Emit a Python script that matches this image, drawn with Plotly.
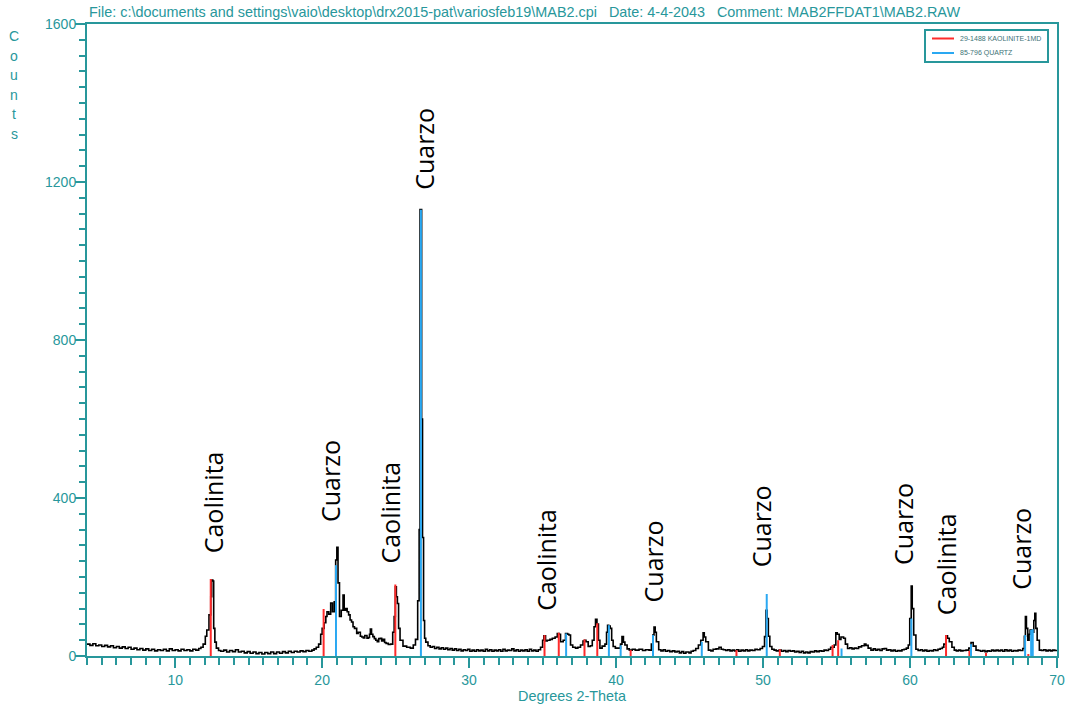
import plotly.graph_objects as go

# ---- measured diffraction trace (2-theta in degrees, counts) ----
two_theta = [
    4.0, 4.2, 4.4, 4.6, 4.8, 5.0, 5.2, 5.4, 5.6, 5.8, 6.0, 6.2, 6.4, 6.6, 6.8, 7.0, 7.2, 7.4, 7.6, 7.8,
    8.0, 8.2, 8.4, 8.6, 8.8, 9.0, 9.2, 9.4, 9.6, 9.8, 10.0, 10.2, 10.4, 10.6, 10.8, 11.0, 11.2, 11.4, 11.6,
    11.75, 11.9, 12.05, 12.15, 12.3, 12.42, 12.48, 12.56, 12.62, 12.7, 12.8, 12.95,
    13.1, 13.3, 13.5, 13.7, 13.9, 14.1, 14.3, 14.5, 14.7, 14.9, 15.1, 15.3, 15.5, 15.7, 15.9, 16.1, 16.3, 16.5,
    16.7, 16.9, 17.1, 17.3, 17.5, 17.7, 17.9, 18.1, 18.3, 18.5, 18.7, 18.9, 19.1, 19.3, 19.45,
    19.6, 19.76, 19.9, 20.0, 20.14, 20.25, 20.33, 20.45, 20.58, 20.7, 20.82, 20.92, 21.0, 21.08, 21.18, 21.3,
    21.42, 21.5, 21.6, 21.7, 21.8, 21.9, 22.0, 22.1, 22.2, 22.35, 22.45, 22.6, 22.7, 22.8, 22.9, 23.05,
    23.15, 23.22, 23.28, 23.36, 23.45, 23.55, 23.65, 23.75, 23.85, 23.96, 24.05, 24.15, 24.25, 24.35, 24.5, 24.65,
    24.8, 24.9, 24.98, 25.05, 25.12, 25.2, 25.3, 25.5, 25.75, 26.0, 26.2, 26.35, 26.5, 26.6, 26.66, 26.72,
    26.77, 26.83, 26.9, 26.97,
    27.05, 27.2, 27.35, 27.5, 27.65, 27.8, 27.95, 28.1, 28.25, 28.4, 28.55, 28.7, 28.85, 29.0, 29.15, 29.3,
    29.45, 29.6, 29.75, 29.9, 30.05, 30.2, 30.35, 30.5, 30.65, 30.8, 30.95, 31.1, 31.25, 31.4, 31.55, 31.7,
    31.85, 32.0, 32.15, 32.3, 32.45, 32.6, 32.75, 32.9, 33.05, 33.2, 33.35, 33.5, 33.65, 33.8, 33.95, 34.1,
    34.25, 34.4, 34.55, 34.7,
    34.86, 35.0, 35.08, 35.2, 35.32, 35.5, 35.66, 35.85, 36.0, 36.12, 36.22, 36.4, 36.56, 36.7, 36.79, 36.9,
    37.05, 37.24, 37.4, 37.58, 37.75, 37.85, 37.95, 38.1, 38.25, 38.38, 38.5, 38.6, 38.7, 38.8, 38.9, 39.05,
    39.24, 39.35, 39.42, 39.5, 39.6, 39.7, 39.8, 39.95, 40.15, 40.3, 40.4, 40.5, 40.6, 40.75, 40.9, 41.1,
    41.3, 41.56, 41.8, 42.0, 42.24, 42.4, 42.5, 42.58, 42.66, 42.74,
    42.9, 43.05, 43.2, 43.35, 43.5, 43.65, 43.83, 44.0, 44.15, 44.3, 44.45, 44.6, 44.75, 44.96, 45.1, 45.25,
    45.42, 45.6, 45.76, 45.92, 46.0, 46.1, 46.28, 46.45, 46.6, 46.8, 47.0, 47.15, 47.3, 47.46, 47.6, 47.75,
    47.9, 48.05, 48.2, 48.35, 48.5, 48.65, 48.8, 48.95, 49.1, 49.28, 49.45, 49.6, 49.8, 49.96, 50.1, 50.2,
    50.28, 50.36, 50.46,
    50.6, 50.75, 50.9, 51.09, 51.25, 51.4, 51.55, 51.7, 51.85, 52.0, 52.15, 52.3, 52.45, 52.6, 52.75, 52.9,
    53.05, 53.2, 53.35, 53.5, 53.65, 53.82, 54.0, 54.15, 54.3, 54.45, 54.6, 54.84, 54.95, 55.05, 55.18, 55.3,
    55.48, 55.6, 55.75, 55.9, 56.05, 56.2, 56.35, 56.5, 56.7, 56.89, 57.0, 57.15, 57.34, 57.5, 57.65, 57.8,
    57.95, 58.1, 58.25, 58.4, 58.55, 58.7, 58.85, 59.0, 59.16, 59.3, 59.45, 59.6, 59.75, 59.88, 59.98, 60.08,
    60.15, 60.25, 60.4, 60.55, 60.7, 60.85, 61.0, 61.15, 61.3, 61.45, 61.6, 61.75, 61.9, 62.05, 62.2, 62.3,
    62.45, 62.55, 62.67, 62.85, 63.01, 63.15, 63.3, 63.45, 63.6, 63.81, 64.0, 64.15, 64.3, 64.49, 64.65, 64.8,
    64.95, 65.1, 65.25, 65.4, 65.55, 65.7, 65.85, 66.0, 66.15, 66.3, 66.45, 66.6, 66.75, 66.9, 67.05, 67.2,
    67.35, 67.5, 67.67, 67.78, 67.85, 67.92, 68.01, 68.1, 68.17, 68.3, 68.42, 68.49, 68.56, 68.65, 68.8, 68.95,
    69.1, 69.25, 69.4, 69.55, 69.7, 69.85, 70.0]
counts = [
    30, 27, 31, 26, 28, 24, 27, 23, 26, 21, 24, 20, 23, 19, 22, 17, 20, 16, 19, 15,
    18, 14, 17, 13, 16, 14, 17, 13, 18, 14, 16, 13, 17, 14, 16, 13, 17, 15, 19,
    22, 30, 50, 66, 104, 150, 192, 190, 70, 35, 20, 14,
    12, 15, 10, 14, 11, 16, 10, 12, 8, 11, 7, 10, 6, 9, 5, 9, 6, 10,
    6, 10, 7, 11, 8, 12, 9, 12, 10, 13, 11, 14, 12, 15, 18,
    22, 30, 55, 70, 84, 100, 112, 106, 134, 112, 137, 243, 275, 185, 100, 116,
    154, 116, 120, 112, 104, 91, 86, 74, 70, 57, 60, 50, 48, 46, 52, 45,
    47, 55, 68, 55, 49, 44, 40, 36, 44, 45, 38, 42, 34, 32, 29, 30,
    60, 100, 175, 150, 133, 70, 40, 25, 22, 20, 28, 42, 140, 320, 1130, 1130,
    600, 300, 90, 45,
    35, 26, 22, 24, 19, 22, 18, 21, 17, 20, 16, 19, 15, 18, 14, 17,
    13, 16, 14, 17, 12, 15, 12, 16, 13, 15, 12, 17, 13, 16, 12, 15,
    13, 16, 12, 17, 13, 15, 14, 18, 13, 16, 12, 15, 13, 16, 12, 17,
    13, 15, 12, 16,
    22, 40, 51, 38, 40, 42, 45, 48, 57, 55, 36, 40, 57, 55, 53, 28,
    22, 20, 22, 28, 38, 40, 36, 24, 26, 40, 74, 93, 81, 40, 20, 25,
    30, 60, 78, 76, 70, 40, 24, 20, 20, 30, 49, 35, 28, 18, 15, 17,
    15, 17, 14, 16, 15, 30, 53, 73, 60, 36,
    16, 13, 16, 12, 14, 11, 13, 10, 12, 8, 11, 7, 10, 8, 12, 14,
    19, 28, 40, 59, 48, 36, 15, 13, 17, 18, 22, 17, 16, 14, 16, 13,
    15, 13, 16, 12, 15, 13, 16, 13, 15, 14, 17, 16, 19, 24, 49, 116,
    95, 50, 24,
    17, 15, 13, 15, 12, 14, 11, 14, 12, 13, 10, 12, 9, 12, 8, 10,
    8, 11, 10, 13, 11, 13, 12, 15, 14, 17, 22, 28, 59, 55, 42, 48,
    45, 30, 19, 21, 18, 20, 19, 23, 26, 30, 27, 20, 15, 18, 15, 17,
    14, 18, 19, 15, 16, 13, 15, 12, 14, 13, 16, 17, 20, 28, 95, 177,
    120, 53, 17, 14, 16, 13, 15, 12, 14, 13, 16, 14, 17, 19, 22, 30,
    51, 45, 36, 22, 15, 13, 15, 13, 14, 15, 20, 34, 25, 15, 14, 12,
    14, 11, 13, 12, 15, 13, 15, 13, 15, 12, 16, 13, 15, 12, 14, 13,
    15, 14, 19, 50, 100, 70, 40, 55, 66, 60, 90, 108, 70, 40, 15, 14,
    16, 13, 15, 13, 15, 14, 15]
assert len(two_theta) == len(counts), (len(two_theta), len(counts))

# ---- reference patterns (stick positions and heights) ----
kaolinite_pos = [12.42, 20.1, 24.98, 35.13, 36.1, 37.85, 38.72, 40.99, 48.19, 51.14, 54.73, 55.11, 62.45, 64.04, 65.17, 68.05]
kaolinite_int = [195, 119, 181, 53, 59, 42, 83, 15, 15, 17, 28, 40, 53, 13, 8, 5]
quartz_pos = [20.94, 26.72, 36.6, 39.51, 40.31, 42.51, 45.83, 50.25, 55.34, 60.09, 64.15, 67.83, 68.24, 68.35]
quartz_int = [230, 1130, 57, 78, 27, 53, 36, 157, 19, 95, 30, 53, 66, 68]
pattern_names = ["29-1488 KAOLINITE-1MD", "85-796 QUARTZ"]
pattern_colors = ["#ff2b2b", "#2aa8f2"]

# ---- phase labels ----
label_text = ["Caolinita", "Cuarzo", "Caolinita", "Cuarzo", "Caolinita", "Cuarzo", "Cuarzo", "Cuarzo", "Caolinita", "Cuarzo"]
label_x = [12.57, 20.53, 24.61, 26.93, 35.22, 42.5, 49.92, 59.51, 62.5, 67.54]
label_y = [389, 443, 363, 1284, 243, 239, 328, 334, 232, 271]

x_ticks = [10, 20, 30, 40, 50, 60, 70]
y_ticks = [0, 400, 800, 1200, 1600]

header = (r"File: c:\documents and settings\vaio\desktop\drx2015-pat\variosfeb19\MAB2.cpi"
          r"&nbsp;&nbsp;&nbsp;Date: 4-4-2043&nbsp;&nbsp;&nbsp;Comment: MAB2FFDAT1\MAB2.RAW")

TEAL = "#28979b"
FONT = "Liberation Sans"

# page margin removed below; the drawn figure comes out 8px narrower than requested
W, H = 1076, 706
W_EFF = W - 8
PL, PR, PT, PB = 87, 1057, 24, 656          # plot area in pixels
ML, MT, MR, MB = PL, PT, W_EFF - PR, H - PB
pw, ph = PR - PL, PB - PT


def px(sx):
    return (sx - PL) / pw


def py(sy):
    return (PB - sy) / ph


def sticks(pos, inten):
    xs, ys = [], []
    for p, h in zip(pos, inten):
        xs += [p, p, None]
        ys += [0, h, None]
    return xs, ys


fig = go.Figure()
fig.add_trace(go.Scatter(x=two_theta, y=counts, mode="lines", line_shape="hv",
                         line=dict(color="black", width=1.6), showlegend=False))
for pos, inten, name, col in zip([kaolinite_pos, quartz_pos], [kaolinite_int, quartz_int],
                                 pattern_names, pattern_colors):
    sx, sy = sticks(pos, inten)
    fig.add_trace(go.Scatter(x=sx, y=sy, mode="lines", line=dict(color=col, width=2),
                             name=name, showlegend=False))

for t, x, y in zip(label_text, label_x, label_y):
    fig.add_annotation(x=x, y=y, xref="x", yref="y", text=t, textangle=-90, showarrow=False,
                       xanchor="center", yanchor="middle",
                       font=dict(family="Open Sans", size=25, color="black"))

fig.add_annotation(x=0, y=1.003, xref="paper", yref="paper", text=header, showarrow=False,
                   xanchor="left", yanchor="bottom", font=dict(family=FONT, size=14.4, color=TEAL))

for i, ch in enumerate("Counts"):
    fig.add_annotation(x=px(14), y=py(36 + i * 19.6), xref="paper", yref="paper", text=ch,
                       showarrow=False, xanchor="center", yanchor="middle",
                       font=dict(family=FONT, size=14, color=TEAL))

fig.add_annotation(x=0.5, y=py(696), xref="paper", yref="paper", text="Degrees 2-Theta", showarrow=False,
                   xanchor="center", yanchor="middle", font=dict(family=FONT, size=14.4, color=TEAL))

# legend box (drawn as shapes + text)
fig.add_shape(type="rect", xref="paper", yref="paper", x0=px(925), x1=px(1048), y0=py(62), y1=py(30),
              line=dict(color=TEAL, width=2), fillcolor="white", layer="above")
for i, (name, col) in enumerate(zip(pattern_names, pattern_colors)):
    yy = py(38.5 + i * 14.5)
    fig.add_shape(type="line", xref="paper", yref="paper", x0=px(932), x1=px(954), y0=yy, y1=yy,
                  line=dict(color=col, width=2), layer="above")
    fig.add_annotation(x=px(958), y=yy, xref="paper", yref="paper", text=name, showarrow=False,
                       xanchor="left", yanchor="middle",
                       font=dict(family=FONT, size=7, color="#3d7377"))

axis_common = dict(showline=True, linecolor=TEAL, linewidth=2, mirror=True, showgrid=False, zeroline=False,
                   ticks="outside", tickcolor=TEAL, tickwidth=2, ticklen=10,
                   tickfont=dict(family=FONT, size=14, color=TEAL))

fig.update_layout(
    width=W, height=H,
    margin=dict(l=ML, r=MR, t=MT, b=MB),
    paper_bgcolor="white", plot_bgcolor="white",
    font=dict(family=FONT, color=TEAL),
    xaxis=dict(range=[4, 70], tickvals=x_ticks,
               minor=dict(dtick=1, tick0=0, ticks="outside", ticklen=7, tickwidth=2, tickcolor=TEAL),
               **axis_common),
    yaxis=dict(range=[0, 1600], tickvals=y_ticks, ticklabelstandoff=-4,
               minor=dict(dtick=40, tick0=0, ticks="outside", ticklen=6, tickwidth=2, tickcolor=TEAL),
               **axis_common),
    showlegend=False,
)

fig.write_html("out.html", config={"displayModeBar": False},
               post_script="document.body.style.margin='0';document.body.style.overflow='hidden';")
